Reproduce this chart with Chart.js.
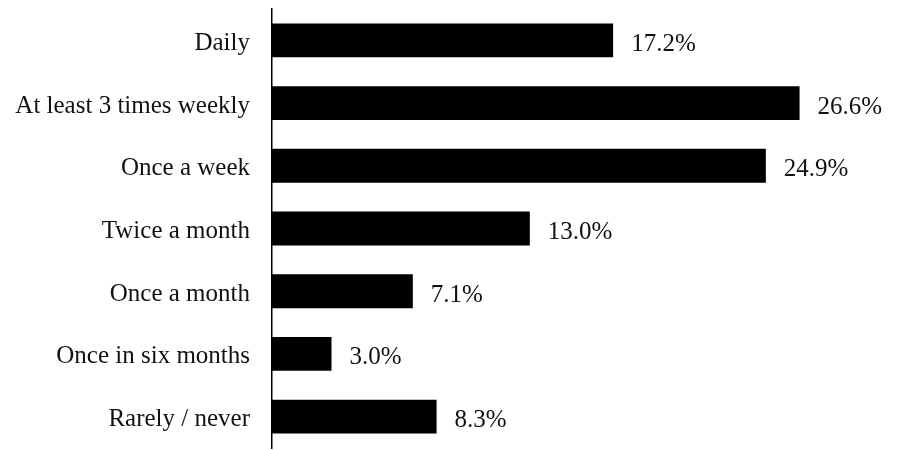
<!DOCTYPE html>
<html>
<head>
<meta charset="utf-8">
<script src="https://cdn.jsdelivr.net/npm/chart.js@4/dist/chart.umd.min.js"></script>
<style>
  html, body { margin: 0; padding: 0; background: #fff; }
  #wrap { width: 905px; height: 450px; }
</style>
</head>
<body>
<div id="wrap"><canvas id="freqChart"></canvas></div>
<script>
const categories = [
  'Daily',
  'At least 3 times weekly',
  'Once a week',
  'Twice a month',
  'Once a month',
  'Once in six months',
  'Rarely / never'
];
const percentages = [17.2, 26.6, 24.9, 13.0, 7.1, 3.0, 8.3];

const fontFamily = '"Liberation Serif", "Times New Roman", serif';

// draws the "17.2%" style labels after each bar
const valueLabels = {
  id: 'valueLabels',
  afterDatasetsDraw(chart) {
    const ctx = chart.ctx;
    const meta = chart.getDatasetMeta(0);
    ctx.save();
    ctx.font = '25px ' + fontFamily;
    ctx.fillStyle = '#111';
    ctx.textAlign = 'left';
    ctx.textBaseline = 'middle';
    meta.data.forEach((bar, i) => {
      ctx.fillText(percentages[i].toFixed(1) + '%', bar.x + 18, bar.y + 4);
    });
    ctx.restore();
  }
};

new Chart(document.getElementById('freqChart').getContext('2d'), {
  type: 'bar',
  data: {
    labels: categories,
    datasets: [{
      data: percentages,
      backgroundColor: '#000',
      borderWidth: 0,
      barPercentage: 0.54,
      categoryPercentage: 1
    }]
  },
  options: {
    indexAxis: 'y',
    responsive: true,
    maintainAspectRatio: false,
    animation: false,
    layout: {
      padding: { top: 9, right: 38, bottom: 2, left: 0 }
    },
    scales: {
      x: {
        display: false,
        min: 0,
        max: 30
      },
      y: {
        afterFit: (scale) => {
          scale.width = 272;
          scale.paddingTop = 0;
          scale.paddingBottom = 0;
        },
        grid: { display: false },
        border: { display: true, color: '#000', width: 1.5 },
        ticks: {
          color: '#111',
          padding: 14,
          labelOffset: 3,
          font: { family: fontFamily, size: 25 }
        }
      }
    },
    plugins: {
      legend: { display: false },
      title: { display: false },
      tooltip: { enabled: false }
    }
  },
  plugins: [valueLabels]
});
</script>
</body>
</html>
